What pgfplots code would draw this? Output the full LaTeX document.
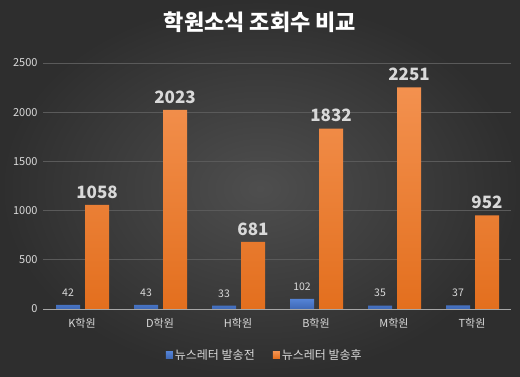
\documentclass[border=0pt]{standalone}
\usepackage{fontspec}
\setmainfont{Noto Sans CJK KR}
\usepackage{pgfplots}
\pgfplotsset{compat=1.18}
\definecolor{bgin}{HTML}{4E4E4E}
\definecolor{bgout}{HTML}{2E2E2E}
\definecolor{txt}{HTML}{D9D9D9}
\definecolor{gridc}{HTML}{5A5A5A}
\definecolor{axc}{HTML}{A6A6A6}
\definecolor{cblue}{HTML}{4472C4}
\definecolor{corange}{HTML}{ED7D31}
\definecolor{corangetop}{HTML}{F3914F}
\definecolor{corangebot}{HTML}{E36F1E}
\definecolor{cbluetop}{HTML}{5483D6}
\definecolor{cbluebot}{HTML}{3E68B5}
\pgfplotstableread{
x before after
0 42 1058
1 43 2023
2 33 681
3 102 1832
4 35 2251
5 37 952
}\datatable
\begin{document}
\begin{tikzpicture}[x=1pt,y=1pt]
\shade[inner color=bgin, outer color=bgout] (0,0) rectangle (520,377);
\node[text=white, font=\bfseries\fontsize{22}{25}\selectfont] at (260,355) {학원소식 조회수 비교};
\begin{axis}[
  at={(43pt,68pt)}, anchor=south west,
  scale only axis, width=468pt, height=246pt,
  ymin=0, ymax=2500, xmin=-0.5, xmax=5.5,
  ytick={0,500,1000,1500,2000,2500},
  xtick={0,1,2,3,4,5},
  xticklabels={K학원,D학원,H학원,B학원,M학원,T학원},
  ymajorgrids, grid style={draw=gridc, line width=0.7pt},
  axis x line*=bottom, axis y line*=left,
  y axis line style={draw=none},
  x axis line style={draw=axc, line width=0.8pt, -},
  major tick length=0pt,
  tick style={draw=none},
  /pgf/number format/assume math mode=true,
  /pgf/number format/1000 sep={},
  ticklabel style={text=txt, font=\fontsize{11}{13}\selectfont},
  yticklabel style={xshift=-2pt},
  xticklabel style={yshift=-6pt},
  ybar, bar width=24pt,
  legend style={at={(0.474,-0.187)}, anchor=center, draw=none, fill=none,
    text=txt, font=\fontsize{12}{14}\selectfont, legend columns=2,
    /tikz/every even column/.append style={column sep=16pt}},
  legend image code/.code={\fill[#1] (0pt,-3.5pt) rectangle (7pt,3.5pt);},
  nodes near coords,
  nodes near coords style={text=txt},
]
\addplot[draw=none, top color=cbluetop, bottom color=cbluebot, bar shift=-14pt,
  nodes near coords style={font=\fontsize{10.5}{12}\selectfont, yshift=5pt}]
  table[x=x, y=before] {\datatable};
\addplot[draw=none, top color=corangetop, bottom color=corangebot, bar shift=15pt,
  nodes near coords style={font=\bfseries\fontsize{17}{20}\selectfont, yshift=3pt}]
  table[x=x, y=after] {\datatable};
\legend{뉴스레터 발송전, 뉴스레터 발송후}
\end{axis}
\end{tikzpicture}
\end{document}
